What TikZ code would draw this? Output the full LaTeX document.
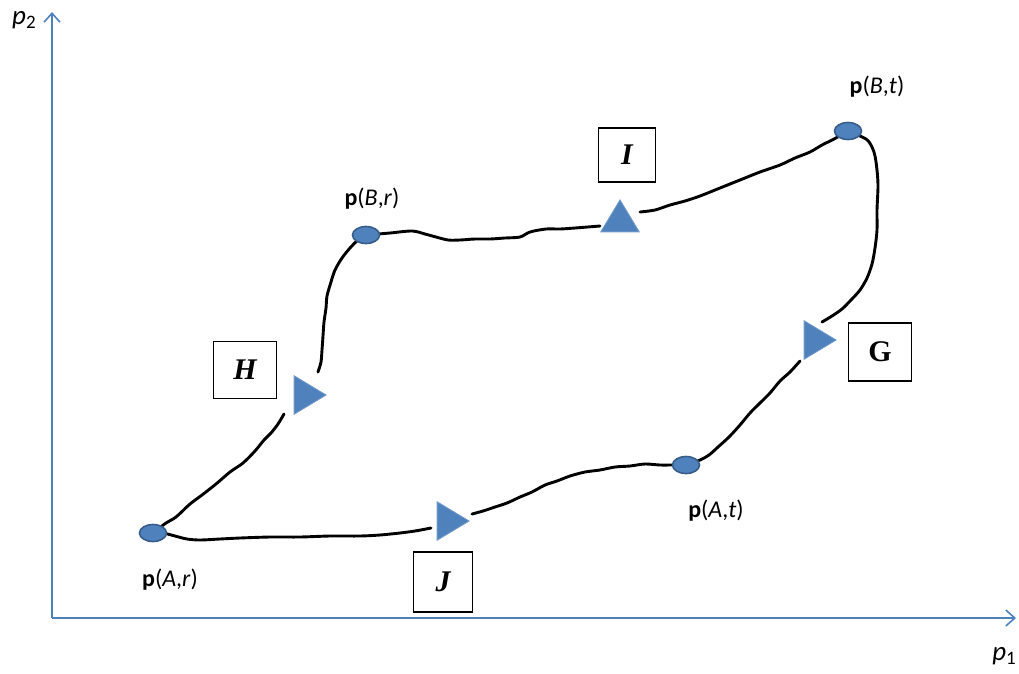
\documentclass[tikz,border=0pt]{standalone}
\usepackage{fontspec}
\setmainfont{Liberation Serif}
\newfontfamily\lbl{Carlito}
\usetikzlibrary{shapes.geometric,arrows.meta}
\definecolor{ax}{HTML}{4F81BD}
\definecolor{ptfill}{HTML}{4F81BD}
\definecolor{ptdraw}{HTML}{385D8A}
\begin{document}
\begin{tikzpicture}[x=1pt,y=-1pt,
  axis/.style={draw=ax,line width=1.6pt,-{Straight Barb[length=9pt,width=16pt,line width=1.6pt]}},
  pt/.style={ellipse,fill=ptfill,draw=ptdraw,line width=1.6pt,minimum width=27pt,minimum height=17pt,inner sep=0pt},
  tri/.style={isosceles triangle,isosceles triangle apex angle=62,fill=ptfill,draw=ptfill!80,line width=0.8pt,minimum size=32pt,inner sep=0pt},
  lbox/.style={draw=black,line width=1.2pt,fill=white,minimum width=60pt,minimum height=56pt,inner sep=0pt,font=\fontsize{30}{32}\selectfont\bfseries},
  ptlab/.style={font=\lbl\fontsize{24}{26}\selectfont,inner sep=0pt},
  curve/.style={line width=2.9pt,black,line cap=round,line join=round}
]
\useasboundingbox (0,0) rectangle (1019,673);
% axes
\coordinate (O) at (52,618);
\coordinate (Y) at (52,12);
\coordinate (X) at (1016,618);
\draw[axis] (O) -- (Y);
\draw[axis] (O) -- (X);
\node[ptlab,font=\lbl\fontsize{27}{29}\selectfont] (p2) at (24,20) {\textit{p}\raisebox{-0.35ex}{\fontsize{19}{21}\selectfont 2}};
\node[ptlab,font=\lbl\fontsize{27}{29}\selectfont] (p1) at (1004,656) {\textit{p}\raisebox{-0.35ex}{\fontsize{19}{21}\selectfont 1}};
% triangles
\node[tri,shape border rotate=-7] (tH) at (305,395) {};
\node[tri,shape border rotate=78] (tI) at (620,221) {};
\node[tri,shape border rotate=-10] (tG) at (815,340) {};
\node[tri,shape border rotate=7] (tJ) at (448,521) {};
% point coordinates
\coordinate (cAr) at (153,533);
\coordinate (cBr) at (366,235);
\coordinate (cBt) at (848,131);
\coordinate (cAt) at (686,465);
% curves
\draw[curve] plot[smooth,tension=0.5] coordinates {(cAr) (166,523) (176,517) (190,504) (202,495) (216,484) (230,472) (243,463) (255,451) (264,440) (271,433) (278,424) (284,414)};
\draw[curve] plot[smooth,tension=0.5] coordinates {(318,372) (321,362) (322,350) (323,336) (324,322) (326,308) (327,296) (331,282) (335,270) (342,258) (350,248) (358,240) (cBr)};
\draw[curve] plot[smooth,tension=0.5] coordinates {(cBr) (390,233) (412,231) (425,234) (436,237) (448,240) (460,240) (475,239) (490,239) (505,238) (520,237) (530,232) (546,229) (560,229) (575,228) (600,226)};
\draw[curve] plot[smooth,tension=0.5] coordinates {(640,212) (655,210) (670,205) (685,201) (700,196) (720,188) (740,180) (760,172) (780,165) (795,158) (810,152) (822,145) (834,139) (cBt)};
\draw[curve] plot[smooth,tension=0.5] coordinates {(cBt) (866,139) (872,147) (875,156) (877,170) (878,186) (877,210) (877,230) (875,248) (872,264) (867,278) (860,290) (851,300) (842,309) (832,316) (822,322)};
\draw[curve] plot[smooth,tension=0.5] coordinates {(800,361) (790,372) (780,381) (770,393) (760,403) (750,413) (740,425) (729,437) (718,447) (709,455) (700,460) (cAt)};
\draw[curve] plot[smooth,tension=0.5] coordinates {(cAt) (672,465) (660,465) (645,464) (630,466) (615,467) (600,470) (585,472) (570,476) (557,481) (545,485) (532,492) (520,497) (507,503) (495,507) (483,511) (472,514)};
\draw[curve] plot[smooth,tension=0.5] coordinates {(431,528) (415,531) (400,533) (380,535) (360,536) (330,536) (300,537) (270,537) (240,538) (220,539) (200,540) (187,539) (175,536) (163,533) (cAr)};
% points
\node[pt] (Ar) at (cAr) {};
\node[pt] (Br) at (cBr) {};
\node[pt] (Bt) at (cBt) {};
\node[pt] (At) at (cAt) {};
% point labels
\node[ptlab] (lAr) at (170,580) {\textbf{p}(\textit{A},\textit{r})};
\node[ptlab] (lBr) at (372,199) {\textbf{p}(\textit{B},\textit{r})};
\node[ptlab] (lBt) at (877,87) {\textbf{p}(\textit{B},\textit{t})};
\node[ptlab] (lAt) at (716,511) {\textbf{p}(\textit{A},\textit{t})};
% boxes
\node[lbox,minimum width=63pt,minimum height=57pt] (H) at (245,370) {\itshape H};
\node[lbox,minimum width=57pt,minimum height=54pt] (I) at (627,155) {\itshape I};
\node[lbox,minimum width=63pt,minimum height=58pt] (G) at (880,352) {G};
\node[lbox,minimum width=59pt,minimum height=60pt] (J) at (443,582) {\itshape J};
\end{tikzpicture}
\end{document}
